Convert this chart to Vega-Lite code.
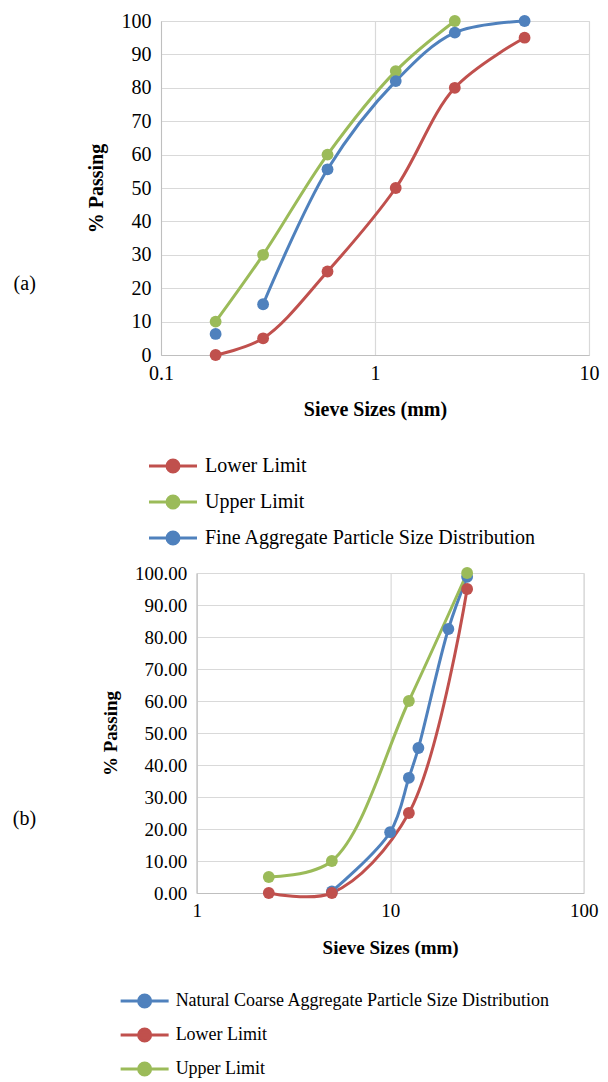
{
  "$schema": "https://vega.github.io/schema/vega-lite/v6.json",
  "background": "white",
  "padding": {"left": 12, "top": 10, "right": 4, "bottom": 5},
  "config": {
    "font": "Liberation Serif",
    "view": {"stroke": "#D9D9D9", "strokeWidth": 1},
    "style": {"guide-label": {"font": "Liberation Serif", "fill": "black"}, "guide-title": {"font": "Liberation Serif", "fill": "black"}},
    "axis": {
      "labelFont": "Liberation Serif",
      "titleFont": "Liberation Serif",
      "labelColor": "black",
      "titleColor": "black",
      "titleFontWeight": "bold",
      "ticks": false,
      "labelFlush": false,
      "domainColor": "#BFBFBF",
      "gridColor": "#D9D9D9",
      "gridWidth": 1.2,
      "labelPadding": 10
    },
    "legend": {
      "labelFont": "Liberation Serif",
      "labelColor": "black",
      "labelLimit": 0,
      "symbolType": "M-4,0L4,0M1,0A1,1,0,1,1,-1,0A1,1,0,1,1,1,0Z",
      "symbolSize": 144,
      "symbolStrokeWidth": 3,
      "labelOffset": 22,
      "padding": 0,
      "orient": "none"
    }
  },
  "datasets": {
    "fine": [
      {"series": "Lower Limit", "size": 0.18, "pass": 0, "seg": "main"},
      {"series": "Lower Limit", "size": 0.3, "pass": 5, "seg": "main"},
      {"series": "Lower Limit", "size": 0.6, "pass": 25, "seg": "main"},
      {"series": "Lower Limit", "size": 1.25, "pass": 50, "seg": "main"},
      {"series": "Lower Limit", "size": 2.36, "pass": 80, "seg": "main"},
      {"series": "Lower Limit", "size": 5, "pass": 95, "seg": "main"},
      {"series": "Upper Limit", "size": 0.18, "pass": 10, "seg": "main"},
      {"series": "Upper Limit", "size": 0.3, "pass": 30, "seg": "main"},
      {"series": "Upper Limit", "size": 0.6, "pass": 60, "seg": "main"},
      {"series": "Upper Limit", "size": 1.25, "pass": 85, "seg": "main"},
      {"series": "Upper Limit", "size": 2.36, "pass": 100, "seg": "main"},
      {"series": "Fine Aggregate Particle Size Distribution", "size": 0.18, "pass": 6.3, "seg": "iso"},
      {"series": "Fine Aggregate Particle Size Distribution", "size": 0.3, "pass": 15.2, "seg": "main"},
      {"series": "Fine Aggregate Particle Size Distribution", "size": 0.6, "pass": 55.6, "seg": "main"},
      {"series": "Fine Aggregate Particle Size Distribution", "size": 1.25, "pass": 82, "seg": "main"},
      {"series": "Fine Aggregate Particle Size Distribution", "size": 2.36, "pass": 96.5, "seg": "main"},
      {"series": "Fine Aggregate Particle Size Distribution", "size": 5, "pass": 100, "seg": "main"}
    ],
    "coarse": [
      {"series": "Natural Coarse Aggregate Particle Size Distribution", "size": 5, "pass": 0.5},
      {"series": "Natural Coarse Aggregate Particle Size Distribution", "size": 10, "pass": 19},
      {"series": "Natural Coarse Aggregate Particle Size Distribution", "size": 12.5, "pass": 36},
      {"series": "Natural Coarse Aggregate Particle Size Distribution", "size": 14, "pass": 45.3},
      {"series": "Natural Coarse Aggregate Particle Size Distribution", "size": 20, "pass": 82.5},
      {"series": "Natural Coarse Aggregate Particle Size Distribution", "size": 25, "pass": 98.8},
      {"series": "Lower Limit", "size": 2.36, "pass": 0},
      {"series": "Lower Limit", "size": 5, "pass": 0},
      {"series": "Lower Limit", "size": 12.5, "pass": 25},
      {"series": "Lower Limit", "size": 25, "pass": 95},
      {"series": "Upper Limit", "size": 2.36, "pass": 5},
      {"series": "Upper Limit", "size": 5, "pass": 10},
      {"series": "Upper Limit", "size": 12.5, "pass": 60},
      {"series": "Upper Limit", "size": 25, "pass": 100}
    ]
  },
  "spacing": 13,
  "center": true,
  "vconcat": [
    {
      "spacing": 10,
      "hconcat": [
        {
          "title": {"text": "(a)", "orient": "left", "angle": 0, "anchor": "middle", "align": "right", "baseline": "middle", "offset": 28, "dy": 96, "fontSize": 20, "fontWeight": "normal", "font": "Liberation Serif", "color": "black"},
          "width": 428,
          "height": 334,
          "data": {"name": "fine"},
          "encoding": {
            "x": {"field": "size", "type": "quantitative", "scale": {"type": "log", "domain": [0.1, 10], "nice": false},
              "axis": {"values": [0.1, 1, 10], "format": "~g", "title": "Sieve Sizes (mm)", "labelFontSize": 20, "titleFontSize": 20, "labelPadding": 8, "titlePadding": 16}},
            "y": {"field": "pass", "type": "quantitative", "scale": {"domain": [0, 100], "nice": false},
              "axis": {"values": [0, 10, 20, 30, 40, 50, 60, 70, 80, 90, 100], "title": "% Passing", "labelFontSize": 20, "titleFontSize": 20, "titlePadding": 15}},
            "color": {"field": "series", "type": "nominal",
              "scale": {"domain": ["Lower Limit", "Upper Limit", "Fine Aggregate Particle Size Distribution"], "range": ["#C0504D", "#9BBB59", "#4F81BD"]},
              "legend": {"title": null, "legendX": 2, "legendY": 435, "labelFontSize": 20, "rowPadding": 12}}
          },
          "layer": [
            {"mark": {"type": "line", "interpolate": "catmull-rom", "strokeWidth": 3}, "encoding": {"detail": {"field": "seg"}}},
            {"mark": {"type": "point", "filled": true, "size": 140, "opacity": 1}}
          ]
        },
        {
          "width": 24,
          "height": 334,
          "view": {"stroke": null},
          "data": {"values": []},
          "mark": "point",
          "encoding": {}
        }
      ]
    },
    {
      "title": {"text": "(b)", "orient": "left", "angle": 0, "anchor": "middle", "align": "right", "baseline": "middle", "offset": 42, "dy": 86, "fontSize": 20, "fontWeight": "normal", "font": "Liberation Serif", "color": "black"},
      "width": 387,
      "height": 320,
      "data": {"name": "coarse"},
      "encoding": {
        "x": {"field": "size", "type": "quantitative", "scale": {"type": "log", "domain": [1, 100], "nice": false},
          "axis": {"values": [1, 10, 100], "format": "~g", "title": "Sieve Sizes (mm)", "labelFontSize": 19, "titleFontSize": 19, "labelPadding": 8, "titlePadding": 18}},
        "y": {"field": "pass", "type": "quantitative", "scale": {"domain": [0, 100], "nice": false},
          "axis": {"values": [0, 10, 20, 30, 40, 50, 60, 70, 80, 90, 100], "format": ".2f", "title": "% Passing", "labelFontSize": 19, "titleFontSize": 19, "titlePadding": 14}},
        "color": {"field": "series", "type": "nominal",
          "scale": {"domain": ["Natural Coarse Aggregate Particle Size Distribution", "Lower Limit", "Upper Limit"], "range": ["#4F81BD", "#C0504D", "#9BBB59"]},
          "legend": {"title": null, "legendX": -61, "legendY": 419, "labelFontSize": 18, "rowPadding": 10}}
      },
      "layer": [
        {"mark": {"type": "line", "interpolate": "catmull-rom", "strokeWidth": 3}},
        {"mark": {"type": "point", "filled": true, "size": 140, "opacity": 1}}
      ]
    }
  ],
  "resolve": {"scale": {"color": "independent"}, "legend": {"color": "independent"}}
}
